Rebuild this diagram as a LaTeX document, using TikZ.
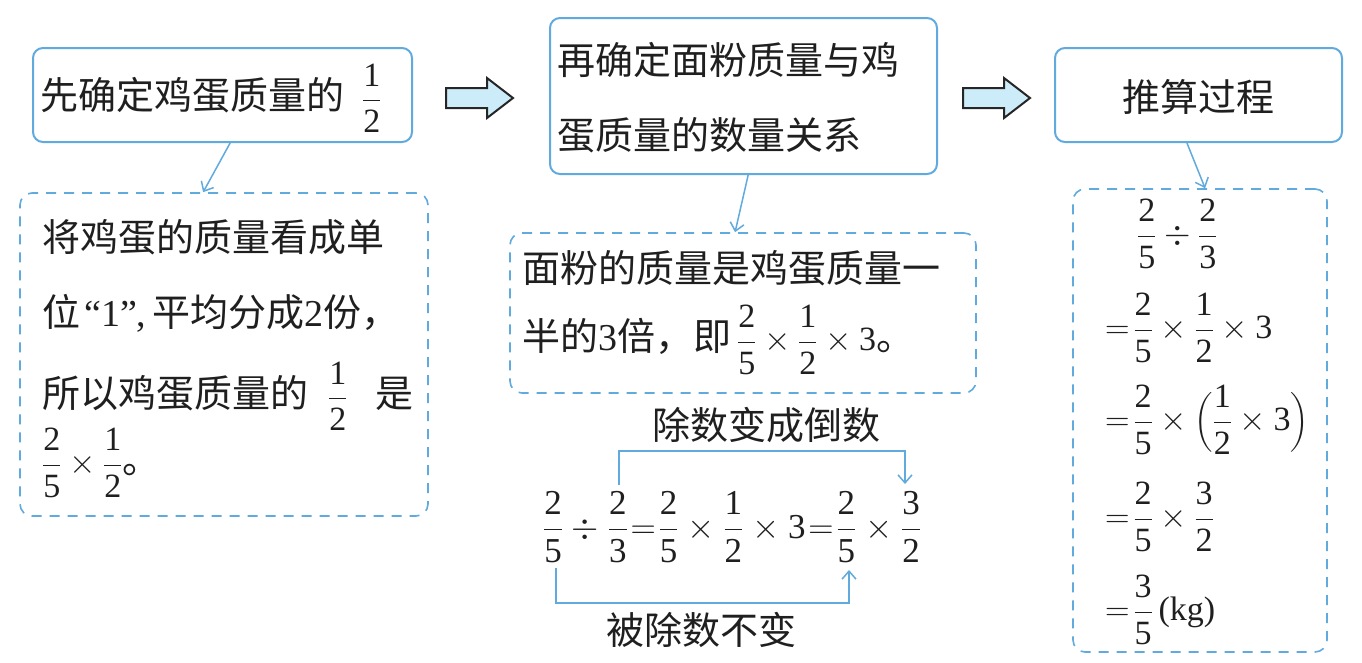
\RequirePackage{fix-cm}
\documentclass[tikz,border=0pt]{standalone}
\usepackage{amsmath}
\usepackage{fontspec}
\setmainfont{Liberation Serif}
\newfontfamily\cjk{Noto Sans CJK SC}
\usetikzlibrary{arrows.meta,calc}
\definecolor{lblue}{RGB}{96,170,222}
\definecolor{afill}{RGB}{205,236,250}
\newcommand{\rmd}[1]{{\rmfamily #1}}
\newcommand{\fr}[2]{\dfrac{\mbox{#1}}{\mbox{#2}}}
\newcommand{\n}[1]{\mbox{#1}}
\newcommand{\mth}[1]{{\rmfamily\fontsize{34}{40}\selectfont\medmuskip=4mu\thickmuskip=2mu$\displaystyle #1$}}
\newcommand{\mthb}[1]{{\rmfamily\fontsize{35}{40}\selectfont\medmuskip=4.5mu\thickmuskip=1.5mu$\displaystyle #1$}}
\begin{document}
\begin{tikzpicture}[x=1pt,y=-1pt,
  solidbox/.style={draw=lblue,line width=2pt,rounded corners=10pt,inner sep=0pt},
  dashbox/.style={draw=lblue,line width=1.6pt,rounded corners=12pt,dash pattern=on 10pt off 8pt,inner sep=0pt},
  zh/.style={font=\cjk\fontsize{38}{40}\selectfont,inner sep=0pt,anchor=west,text=black!88},
  mt/.style={inner sep=0pt,anchor=west,text=black!88},
  conn/.style={draw=lblue,line width=1.5pt,-{Straight Barb[length=8pt,width=14pt]}},
  bigarrow/.style={draw=black!85,line width=2pt,fill=afill,line join=miter}]
\useasboundingbox (0,0) rectangle (1362,662);
% boxes
\node[solidbox,minimum width=379pt,minimum height=94pt] (b1) at (222.5,95) {};
\node[solidbox,minimum width=387pt,minimum height=156pt] (b2) at (743.5,96) {};
\node[solidbox,minimum width=287pt,minimum height=94pt] (b3) at (1198.5,95) {};
\node[dashbox,minimum width=408pt,minimum height=323pt] (d1) at (224,354.5) {};
\node[dashbox,minimum width=466pt,minimum height=160pt] (d2) at (743,313) {};
\node[dashbox,minimum width=254pt,minimum height=463pt] (d3) at (1200,420.5) {};
% big arrows
\draw[bigarrow] (446,88) -- (487,88) -- (487,78) -- (513,98) -- (487,118) -- (487,108) -- (446,108) -- cycle;
\draw[bigarrow] (963,88) -- (1004,88) -- (1004,78) -- (1030,98) -- (1004,118) -- (1004,108) -- (963,108) -- cycle;
% connectors
\draw[conn] ($(b1.south west)!0.52!(b1.south east)$) -- ($(d1.north west)!0.449!(d1.north east)$);
\draw[conn] ($(b2.south west)!0.512!(b2.south east)$) -- ($(d2.north west)!0.483!(d2.north east)$);
\draw[conn] ($(b3.south west)!0.46!(b3.south east)$) -- ($(d3.north west)!0.52!(d3.north east)$);
% box texts
\node[zh] (t1) at (40,98) {先确定鸡蛋质量的\hspace{18pt}\mth{\fr12}};
\node[zh] (t2a) at (557,60) {再确定面粉质量与鸡};
\node[zh] (t2b) at (557,135) {蛋质量的数量关系};
\node[zh,anchor=center] (t3) at (1198,97) {推算过程};
% dashed box 1
\node[zh] (d1a) at (42,237) {将鸡蛋的质量看成单};
\node[zh] (d1b) at (42,313) {位\hspace{4pt}\rmd{“1”,}\hspace{6pt}平均分成\rmd{2}份，};
\node[zh] (d1c) at (42,396) {所以鸡蛋质量的\hspace{20pt}\mth{\fr12}\hspace{28pt}是};
\node[zh] (d1d) at (42,463) {\mth{\fr25\times\fr12}。};
% dashed box 2
\node[zh] (d2a) at (522,268) {面粉的质量是鸡蛋质量一};
\node[zh] (d2b) at (522,340) {半的\rmd{3}倍，即\hspace{6pt}\mth{\fr25\times\fr12\times\n{3}}。};
% equation
\node[mt] (eq) at (543,527) {\mthb{\fr25\div\fr23=\fr25\times\fr12\times\n{3}=\fr25\times\fr32}};
\node[zh,anchor=center] (lt) at (766,425) {除数变成倒数};
\node[zh,anchor=center] (lb) at (701,630) {被除数不变};
\coordinate (tA) at (619,485);
\coordinate (tB) at (905,484);
\coordinate (bA) at (556,568);
\coordinate (bB) at (849,570);
\draw[conn] (tA) -- ++(0,-34) -| (tB);
\draw[conn] (bA) -- ++(0,35) -| (bB);
% column 3
\node[mt] (c1) at (1137,234) {\mth{\fr25\div\fr23}};
\node[mt] (c2) at (1105,328) {\mth{=\fr25\times\fr12\times\n{3}}};
\node[mt] (c3) at (1105,420) {\mth{=\fr25\times\Bigl(\fr12\times\n{3}\Bigr)}};
\node[mt] (c4) at (1105,517) {\mth{=\fr25\times\fr32}};
\node[mt] (c5) at (1105,610) {\mth{=\fr35\,\n{(kg)}}};
\end{tikzpicture}
\end{document}
